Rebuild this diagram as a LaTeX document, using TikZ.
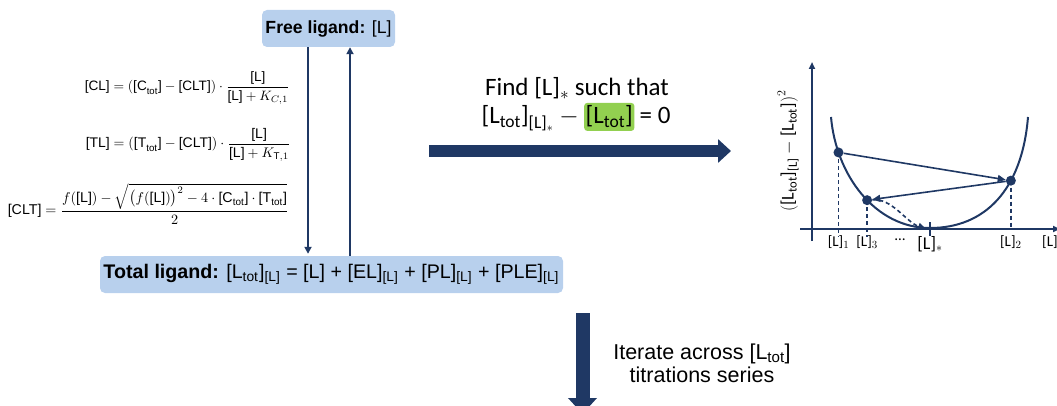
\documentclass[tikz,border=0pt]{standalone}
\usepackage{amsmath}
\usepackage{graphicx}
\usepackage{fontspec}
\setmainfont{Liberation Sans}
\newfontfamily\calfont{Carlito}
\usetikzlibrary{arrows.meta}
\definecolor{navy}{RGB}{31,56,100}
\definecolor{boxblue}{RGB}{184,208,237}
\definecolor{hlgreen}{RGB}{146,208,80}
\tikzset{
  lbox/.style={fill=boxblue, rounded corners=5pt, inner sep=0pt},
  greenbox/.style={fill=hlgreen, rounded corners=3pt, inner xsep=1.5pt, inner ysep=3pt},
  thinarrow/.style={draw=navy, line width=2.2pt, -{Triangle[length=7pt,width=7pt]}},
  bigarrow/.style={draw=navy, line width=12pt, -{Triangle[length=13pt,width=23pt]}},
  axisline/.style={draw=navy, line width=2pt, -{Triangle[length=7pt,width=6pt]}},
  curveline/.style={draw=navy, line width=2pt},
  dot/.style={circle, fill=navy, minimum size=10pt, inner sep=0pt},
  guide/.style={draw=navy, line width=1.3pt, dash pattern=on 4pt off 3pt},
  iterarrow/.style={draw=navy, line width=1.6pt, -{Triangle[length=8pt,width=7pt]}},
  axlab/.style={font=\calfont\fontsize{15}{17}\selectfont, inner sep=0pt},
  findfont/.style={font=\calfont\fontsize{25}{29}\selectfont},
}
\begin{document}
\begin{tikzpicture}[x=1pt,y=-1pt]
\useasboundingbox (0,0) rectangle (1057,406);

% boxes
\node[lbox, minimum width=133pt, minimum height=37pt] (free) at (328.5,28.5)
  {\resizebox{126pt}{!}{\textbf{Free ligand:} [L]}};
\node[lbox, minimum width=463pt, minimum height=37pt] (tot) at (331.5,274.5)
  {\resizebox{456pt}{!}{\textbf{Total ligand:} [L$_{\text{tot}}$]$_{\text{[L]}}$ = [L] + [EL]$_{\text{[L]}}$ + [PL]$_{\text{[L]}}$ + [PLE]$_{\text{[L]}}$}};

% arrows between boxes
\draw[thinarrow, shorten >=2pt] ([xshift=-20.5pt]free.south) -- ([xshift=-23.5pt]tot.north);
\draw[thinarrow] ([xshift=18.5pt]tot.north) -- ([xshift=21.5pt]free.south);

% left formulas
\node[anchor=east, inner sep=0pt] (eqcl) at (290,88)
  {\resizebox{205pt}{!}{$\text{[CL]} = (\text{[C}_{\text{tot}}\text{]} - \text{[CLT]})\cdot\dfrac{\text{[L]}}{\text{[L]} + K_{C,1}}$}};
\node[anchor=east, inner sep=0pt] (eqtl) at (291,145)
  {\resizebox{205pt}{!}{$\text{[TL]} = (\text{[T}_{\text{tot}}\text{]} - \text{[CLT]})\cdot\dfrac{\text{[L]}}{\text{[L]} + K_{\text{T},1}}$}};
\node[anchor=east, inner sep=0pt] (eqclt) at (289,204)
  {\resizebox{281pt}{!}{$\text{[CLT]} = \dfrac{f(\text{[L]}) - \sqrt{\big(f(\text{[L]})\big)^2 - 4\cdot\text{[C}_{\text{tot}}\text{]}\cdot\text{[T}_{\text{tot}}\text{]}}}{2}$}};

% find text
\node[findfont, anchor=base, inner sep=0pt] (find1) at (577,96) {Find [L]$_*$ such that};
\node[findfont, anchor=base east, inner sep=0pt] (find2a) at (579,124) {[L$_{\text{tot}}$]$_{\text{[L]}_*}$ $-$};
\node[findfont, greenbox, anchor=base west] (find2b) at (584,124) {[L$_{\text{tot}}$]};
\node[findfont, anchor=base west, inner sep=0pt] (find2c) at ([xshift=5pt]find2b.base east) {= 0};

% big right arrow
\coordinate (ra) at (429,151);
\coordinate (rb) at (731,151);
\draw[bigarrow] (ra) -- (rb);

% plot
\coordinate (ybot) at (812,241);
\coordinate (ytop) at (812,62);
\draw[axisline] (ybot) -- (ytop);
\coordinate (xleft) at (800,229);
\coordinate (xright) at (1060,229);
\draw[axisline] (xleft) -- (xright);

\draw[curveline] (831,117) .. controls (836,175) and (875,228) ..
   coordinate[pos=0.21] (p1) coordinate[pos=0.55] (p3) (930,228)
   .. controls (985,228) and (1022,190) .. coordinate[pos=0.65] (p2) (1028,117);

\coordinate (lstar) at (930,229);
\draw[navy, line width=1.6pt] (930,222) -- (930,236);

\draw[guide] (p1) -- (p1 |- 0,237);
\draw[guide] (p3) -- (p3 |- 0,237);
\draw[guide] (p2) -- (p2 |- 0,229);

\node[dot] (d1) at (p1) {};
\node[dot] (d2) at (p2) {};
\node[dot] (d3) at (p3) {};

\draw[iterarrow] (d1) -- (d2);
\draw[iterarrow] (d2) -- (d3);
\draw[iterarrow, dash pattern=on 4pt off 3pt] (d3) .. controls (892,198) and (906,222) .. ([xshift=-4pt]lstar);

\node[axlab, anchor=north] (lab1) at (p1 |- 0,235) {[L]$_1$};
\node[axlab, anchor=north] (lab3) at (p3 |- 0,235) {[L]$_3$};
\node[axlab, anchor=north] (labdots) at (900,239) {\ldots};
\node[font=\calfont\fontsize{18}{20}\selectfont, inner sep=0pt, anchor=north] (labstar) at (930,236) {[L]$_*$};
\node[axlab, anchor=north] (lab2) at (p2 |- 0,235) {[L]$_2$};
\node[axlab, anchor=north west] (labx) at (1042,235) {[L]};

\node[rotate=90, font=\calfont\fontsize{18}{20}\selectfont, inner sep=0pt] (ylab) at (788,151)
  {$\left(\text{[L}_{\text{tot}}\text{]}_{\text{[L]}} - \text{[L}_{\text{tot}}\text{]}\right)^2$};

% iterate arrow and text
\coordinate (da) at (582.5,313);
\coordinate (db) at (582.5,414);
\draw[draw=navy, line width=14pt, -{Triangle[length=16pt,width=28pt]}] (da) -- (db);
\node[font=\fontsize{21.5}{23}\selectfont, align=center, inner sep=0pt] (iter) at (702,363)
  {Iterate across [L$_{\text{tot}}$]\\titrations series};
\end{tikzpicture}
\end{document}
